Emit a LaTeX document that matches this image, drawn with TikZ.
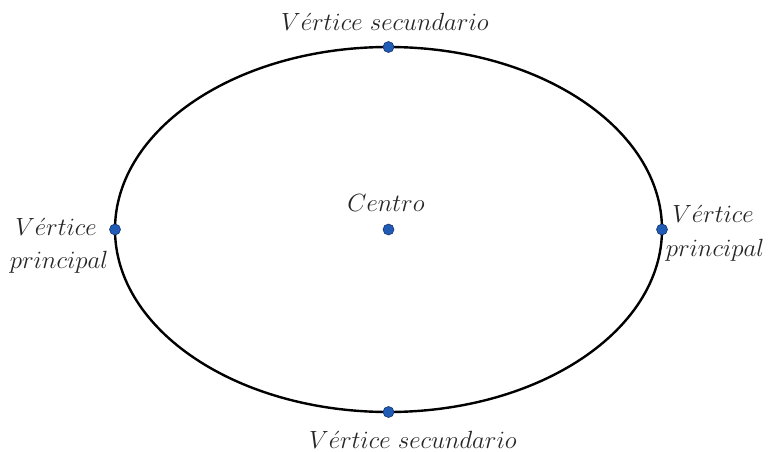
\documentclass[tikz,border=0pt]{standalone}
\usepackage{graphicx}
\definecolor{dotblue}{RGB}{32,92,182}
\definecolor{dotedge}{RGB}{20,50,110}
\newcommand{\elab}[1]{\scalebox{1.44}{$#1$}}
\tikzset{
  vdot/.style={circle,fill=dotblue,draw=dotedge,line width=0.6pt,inner sep=0pt,minimum size=11pt},
  lbl/.style={font=\fontsize{17}{20}\selectfont,text=black!85,inner sep=0pt,align=center}
}
\begin{document}
\begin{tikzpicture}[x=1pt,y=-1pt]
\useasboundingbox (0,0) rectangle (772,452);
\draw[line width=2.4pt] (388.5,229.5) ellipse [x radius=273.5, y radius=182.5];
\node[vdot] (top) at (388.5,47) {};
\node[vdot] (bot) at (388.5,412) {};
\node[vdot] (left) at (115,229.5) {};
\node[vdot] (right) at (662,229.5) {};
\node[vdot] (c) at (388.5,229.5) {};
\node[lbl] (ltop) at (385,22) {\elab{V\acute{e}rtice\ secundario}};
\node[lbl] (lbot) at (413,440) {\elab{V\acute{e}rtice\ secundario}};
\node[lbl] (lc) at (386,203) {\elab{Centro}};
\node[lbl] (ll1) at (56,227) {\elab{V\acute{e}rtice}};
\node[lbl] (ll2) at (59,262) {\elab{principal}};
\node[lbl] (lr1) at (713,214) {\elab{V\acute{e}rtice}};
\node[lbl] (lr2) at (715,250) {\elab{principal}};
\end{tikzpicture}
\end{document}
